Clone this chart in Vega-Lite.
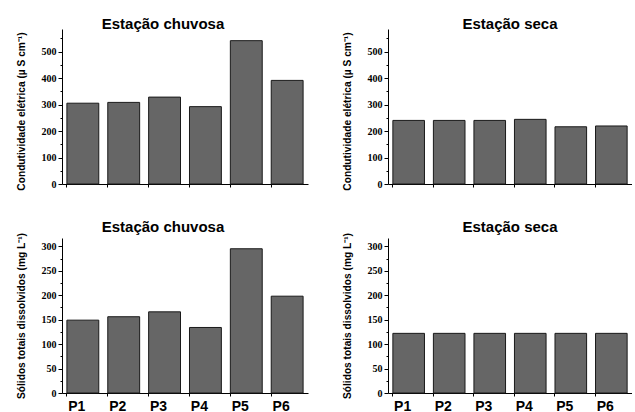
{
  "$schema": "https://vega.github.io/schema/vega-lite/v6.json",
  "padding": {"left": 16, "top": 17, "right": 0, "bottom": 0},
  "background": "white",
  "spacing": 28,
  "datasets": {
    "d": [
      {"ponto": "P1", "estacao": "chuvosa", "variavel": "ce", "valor": 305},
      {"ponto": "P2", "estacao": "chuvosa", "variavel": "ce", "valor": 308},
      {"ponto": "P3", "estacao": "chuvosa", "variavel": "ce", "valor": 328},
      {"ponto": "P4", "estacao": "chuvosa", "variavel": "ce", "valor": 292},
      {"ponto": "P5", "estacao": "chuvosa", "variavel": "ce", "valor": 541},
      {"ponto": "P6", "estacao": "chuvosa", "variavel": "ce", "valor": 391},
      {"ponto": "P1", "estacao": "seca", "variavel": "ce", "valor": 240},
      {"ponto": "P2", "estacao": "seca", "variavel": "ce", "valor": 240},
      {"ponto": "P3", "estacao": "seca", "variavel": "ce", "valor": 240},
      {"ponto": "P4", "estacao": "seca", "variavel": "ce", "valor": 244},
      {"ponto": "P5", "estacao": "seca", "variavel": "ce", "valor": 216},
      {"ponto": "P6", "estacao": "seca", "variavel": "ce", "valor": 219},
      {"ponto": "P1", "estacao": "chuvosa", "variavel": "std", "valor": 149},
      {"ponto": "P2", "estacao": "chuvosa", "variavel": "std", "valor": 156},
      {"ponto": "P3", "estacao": "chuvosa", "variavel": "std", "valor": 166},
      {"ponto": "P4", "estacao": "chuvosa", "variavel": "std", "valor": 134},
      {"ponto": "P5", "estacao": "chuvosa", "variavel": "std", "valor": 295},
      {"ponto": "P6", "estacao": "chuvosa", "variavel": "std", "valor": 198},
      {"ponto": "P1", "estacao": "seca", "variavel": "std", "valor": 122},
      {"ponto": "P2", "estacao": "seca", "variavel": "std", "valor": 122},
      {"ponto": "P3", "estacao": "seca", "variavel": "std", "valor": 122},
      {"ponto": "P4", "estacao": "seca", "variavel": "std", "valor": 122},
      {"ponto": "P5", "estacao": "seca", "variavel": "std", "valor": 122},
      {"ponto": "P6", "estacao": "seca", "variavel": "std", "valor": 122}
    ]
  },
  "config": {
    "font": "Liberation Sans",
    "view": {"stroke": null},
    "title": {"fontSize": 15, "fontWeight": "bold", "color": "black", "offset": -3},
    "axis": {
      "domainColor": "black",
      "tickColor": "black",
      "labelColor": "black",
      "titleColor": "black",
      "grid": false,
      "labelFont": "Liberation Sans Narrow",
      "titleFont": "Liberation Sans",
      "labelFontWeight": "bold",
      "titleFontWeight": "bold"
    },
    "bar": {"fill": "#666666", "stroke": "#1a1a1a", "strokeWidth": 1}
  },
  "vconcat": [
    {
      "spacing": 34,
      "hconcat": [
        {
          "width": 246, "height": 155,
          "title": {"text": "Estação chuvosa", "dx": -22},
          "data": {"name": "d"},
          "transform": [{"filter": "datum.variavel === 'ce' && datum.estacao === 'chuvosa'"}],
          "mark": "bar",
          "encoding": {
            "x": {"field": "ponto", "type": "nominal", "title": null,
                  "scale": {"paddingInner": 0.22, "paddingOuter": 0.12},
                  "axis": {"labels": false, "bandPosition": 0, "tickSize": 3}},
            "y": {"field": "valor", "type": "quantitative", "scale": {"domain": [0, 585], "nice": false},
                  "axis": {"title": "Condutividade elétrica (µ  S cm⁻¹)", "titleFontSize": 10.2, "labelFontSize": 10, "titlePadding": 15, "titleY": 82,
                           "values": [0,50,100,150,200,250,300,350,400,450,500,550],
                           "labelExpr": "datum.value % 100 === 0 ? datum.label : ''",
                           "tickSize": {"condition": {"test": "datum.value % 100 === 0", "value": 4}, "value": 2}}}
          }
        },
        {
          "width": 244, "height": 155,
          "title": {"text": "Estação seca"},
          "data": {"name": "d"},
          "transform": [{"filter": "datum.variavel === 'ce' && datum.estacao === 'seca'"}],
          "mark": "bar",
          "encoding": {
            "x": {"field": "ponto", "type": "nominal", "title": null,
                  "scale": {"paddingInner": 0.22, "paddingOuter": 0.12},
                  "axis": {"labels": false, "bandPosition": 0, "tickSize": 3}},
            "y": {"field": "valor", "type": "quantitative", "scale": {"domain": [0, 585], "nice": false},
                  "axis": {"title": "Condutividade elétrica (µ  S cm⁻¹)", "titleFontSize": 10.2, "labelFontSize": 10, "titlePadding": 15, "titleY": 82,
                           "values": [0,50,100,150,200,250,300,350,400,450,500,550],
                           "labelExpr": "datum.value % 100 === 0 ? datum.label : ''",
                           "tickSize": {"condition": {"test": "datum.value % 100 === 0", "value": 4}, "value": 2}}}
          }
        }
      ]
    },
    {
      "spacing": 34,
      "hconcat": [
        {
          "width": 246, "height": 155,
          "title": {"text": "Estação chuvosa", "dx": -22},
          "data": {"name": "d"},
          "transform": [{"filter": "datum.variavel === 'std' && datum.estacao === 'chuvosa'"}],
          "mark": "bar",
          "encoding": {
            "x": {"field": "ponto", "type": "nominal", "title": null,
                  "scale": {"paddingInner": 0.22, "paddingOuter": 0.12},
                  "axis": {"labelAngle": 0, "labelFont": "Liberation Sans", "labelFontSize": 14, "bandPosition": 0, "tickSize": 3, "labelPadding": 3, "labelOffset": -6}},
            "y": {"field": "valor", "type": "quantitative", "scale": {"domain": [0, 317], "nice": false},
                  "axis": {"title": "Sólidos totais dissolvidos (mg L⁻¹)", "titleFontSize": 10.2, "labelFontSize": 10, "titlePadding": 15,
                           "values": [0,25,50,75,100,125,150,175,200,225,250,275,300],
                           "labelExpr": "datum.value % 50 === 0 ? datum.label : ''",
                           "tickSize": {"condition": {"test": "datum.value % 50 === 0", "value": 4}, "value": 2}}}
          }
        },
        {
          "width": 244, "height": 155,
          "title": {"text": "Estação seca"},
          "data": {"name": "d"},
          "transform": [{"filter": "datum.variavel === 'std' && datum.estacao === 'seca'"}],
          "mark": "bar",
          "encoding": {
            "x": {"field": "ponto", "type": "nominal", "title": null,
                  "scale": {"paddingInner": 0.22, "paddingOuter": 0.12},
                  "axis": {"labelAngle": 0, "labelFont": "Liberation Sans", "labelFontSize": 14, "bandPosition": 0, "tickSize": 3, "labelPadding": 3, "labelOffset": -6}},
            "y": {"field": "valor", "type": "quantitative", "scale": {"domain": [0, 317], "nice": false},
                  "axis": {"title": "Sólidos totais dissolvidos (mg L⁻¹)", "titleFontSize": 10.2, "labelFontSize": 10, "titlePadding": 15,
                           "values": [0,25,50,75,100,125,150,175,200,225,250,275,300],
                           "labelExpr": "datum.value % 50 === 0 ? datum.label : ''",
                           "tickSize": {"condition": {"test": "datum.value % 50 === 0", "value": 4}, "value": 2}}}
          }
        }
      ]
    }
  ]
}
